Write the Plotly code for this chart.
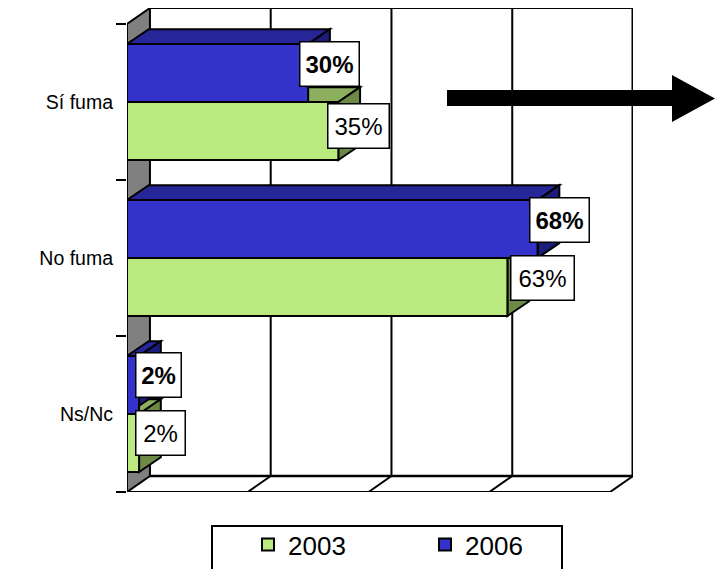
import plotly.graph_objects as go

categories = ["Ns/Nc", "No fuma", "Sí fuma"]
years = ["2003", "2006"]
values_2003 = [2, 63, 35]
values_2006 = [2, 68, 30]
xticks = [0, 20, 40, 60, 80]

GREEN, GREEN_TOP, GREEN_SIDE = "#B9E97F", "#8BAF5F", "#6C8A45"
BLUE, BLUE_TOP, BLUE_SIDE = "#3333CC", "#262699", "#1C1C7A"
W, H = 715, 569
L, T, R, B = 127, 8, 633, 492       # plot rectangle in pixels
WALL_DX, WALL_DY = 3.8, 0.1026      # wall depth in axis units
BAR_DX, BAR_DY = 3.6, 0.095         # bar depth in axis units
BAR_H = 0.372
XMAX = 80 + WALL_DX
YMIN, YMAX = -0.5, 2.5 + WALL_DY
LINE = dict(color="black", width=2)


def poly(points, fill, layer="below", line=LINE):
    path = "M" + " L".join(f"{x},{y}" for x, y in points) + " Z"
    return dict(type="path", xref="x", yref="y", path=path, fillcolor=fill, line=line, layer=layer)


def seg(x0, y0, x1, y1, line=LINE):
    return dict(type="line", xref="x", yref="y", x0=x0, y0=y0, x1=x1, y1=y1, line=line, layer="below")


def px_x(p):
    return (p - L) / (R - L)


def px_y(p):
    return (B - p) / (B - T)


shapes = []
# back wall frame + grid
shapes.append(seg(WALL_DX, YMAX, XMAX, YMAX))
for v in xticks[1:]:
    width = 3 if v == xticks[-1] else 2
    shapes.append(seg(v + WALL_DX, YMIN + WALL_DY, v + WALL_DX, YMAX, dict(color="black", width=width)))
    shapes.append(seg(v, YMIN, v + WALL_DX, YMIN + WALL_DY))
# floor
shapes.append(seg(WALL_DX, YMIN + WALL_DY, XMAX, YMIN + WALL_DY, dict(color="black", width=2.5)))
shapes.append(seg(0, YMIN, 80, YMIN))
# left wall
shapes.append(poly([(0, YMIN), (WALL_DX, YMIN + WALL_DY), (WALL_DX, YMAX), (0, 2.5)], "#808080"))

# 3D faces of the bars, drawn back to front
for i in range(len(categories) - 1, -1, -1):
    for vals, lo, top, side in ((values_2006, i, BLUE_TOP, BLUE_SIDE),
                                (values_2003, i - BAR_H, GREEN_TOP, GREEN_SIDE)):
        v = vals[i]
        hi = lo + BAR_H
        shapes.append(poly([(0, hi), (BAR_DX, hi + BAR_DY), (v + BAR_DX, hi + BAR_DY), (v, hi)], top))
        shapes.append(poly([(v, lo), (v + BAR_DX, lo + BAR_DY), (v + BAR_DX, hi + BAR_DY), (v, hi)], side))

# arrow
ax = [447, 672, 672, 715, 672, 672, 447]
ay = [90, 90, 75, 98.5, 122, 106, 106]
arrow_path = "M" + " L".join(f"{px_x(x):.5f},{px_y(y):.5f}" for x, y in zip(ax, ay)) + " Z"
shapes.append(dict(type="path", xref="paper", yref="paper", path=arrow_path,
                   fillcolor="black", line=dict(color="black", width=0), layer="above"))
# legend frame
shapes.append(dict(type="rect", xref="paper", yref="paper",
                   x0=px_x(212), x1=px_x(562), y0=px_y(575), y1=px_y(526),
                   fillcolor="white", line=LINE, layer="above"))

fig = go.Figure()
for name, vals, color in ((years[0], values_2003, GREEN), (years[1], values_2006, BLUE)):
    fig.add_trace(go.Bar(name=name, y=categories, x=vals, orientation="h",
                         marker=dict(color=color, line=LINE)))

# data label boxes: nudges in px relative to each bar end
annotations = []
xshift_2003 = [-4, 2.5, -11]
xshift_2006 = [-4, -8.5, -9]
yshift_2003 = [10, 9, 5]
yshift_2006 = [10, 9, 9]
width_2003 = [50, 64, 62]
width_2006 = [46, 60, 60]
for vals, lo_off, xs, ys, widths, bold in (
        (values_2003, -BAR_H / 2, xshift_2003, yshift_2003, width_2003, False),
        (values_2006, BAR_H / 2, xshift_2006, yshift_2006, width_2006, True)):
    for i, v in enumerate(vals):
        text = f"<b>{v}%</b>" if bold else f"{v}%"
        annotations.append(dict(x=v, y=i + lo_off, xref="x", yref="y", text=text, showarrow=False,
                                xanchor="left", yanchor="middle", xshift=xs[i], yshift=ys[i],
                                width=widths[i] - 4, height=41, align="center", valign="middle",
                                bgcolor="white", bordercolor="black", borderwidth=1.5, borderpad=1,
                                font=dict(family="Liberation Sans", size=24, color="black")))

fig.update_layout(
    width=W, height=H, autosize=False,
    margin=dict(l=L, r=W - R, t=T, b=H - B, pad=0),
    paper_bgcolor="white", plot_bgcolor="white",
    barmode="group", bargap=0.256, bargroupgap=0,
    shapes=shapes, annotations=annotations,
    font=dict(family="Liberation Sans", color="black"),
    showlegend=True,
    legend=dict(orientation="h", xref="container", yref="container",
                x=248 / W, y=(H - 521) / H, xanchor="left", yanchor="top",
                entrywidth=132, entrywidthmode="pixels", bgcolor="rgba(0,0,0,0)",
                traceorder="normal", font=dict(size=26, color="black", family="Liberation Sans")),
    xaxis=dict(range=[0, XMAX], showgrid=False, zeroline=False, showline=False,
               showticklabels=False, ticks="", tickvals=xticks, fixedrange=True),
    yaxis=dict(type="category", categoryorder="array", categoryarray=categories,
               range=[YMIN, YMAX], showgrid=False, zeroline=False, showline=False,
               ticks="outside", ticklen=10, tickwidth=2, tickcolor="black", tickson="boundaries",
               ticklabelstandoff=13,
               tickfont=dict(size=19.5, color="black", family="Liberation Sans"), fixedrange=True),
)

fig.write_html("out.html", config=dict(displayModeBar=False),
               post_script="document.body.style.margin='0';")
